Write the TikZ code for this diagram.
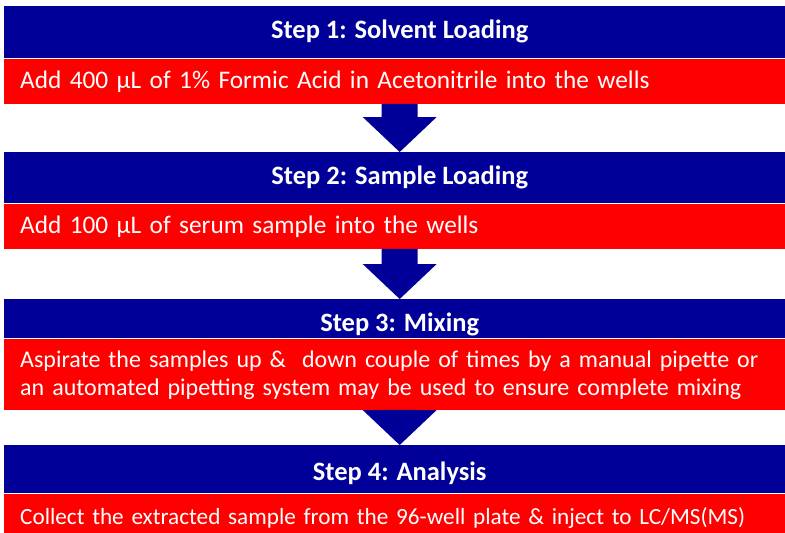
\documentclass[tikz,border=0pt]{standalone}
\usepackage{fontspec}
\setmainfont{Carlito}
\usepackage{tikz}
\usetikzlibrary{calc}
\definecolor{stepblue}{RGB}{0,0,153}
\definecolor{stepred}{RGB}{255,0,0}

\begin{document}
\begin{tikzpicture}[x=1pt,y=-1pt,
    titlebox/.style={fill=stepblue, text=white, anchor=north west, inner sep=0pt,
        minimum width=791pt, text height=18pt, text depth=5pt,
        font=\bfseries\fontsize{26.5}{27.3}\selectfont},
    descbox/.style={fill=stepred, text=white, anchor=north west, align=left,
        text width=900pt, inner xsep=16pt, inner ysep=0pt, minimum height=45pt,
        text height=19.5pt, text depth=5pt,
        font=\fontsize{25.3}{27.3}\selectfont}]
        \useasboundingbox (0,0) rectangle (785,533);

        % Step 1
        \node[titlebox, minimum height=52pt] (t1) at (4,6) {Step 1: Solvent Loading};
        \node[descbox] (d1) at (t1.south west) {Add 400 µL of 1\% Formic Acid in Acetonitrile into the wells};

        % Step 2
        \node[titlebox, minimum height=51pt] (t2) at (4,152) {Step 2: Sample Loading};
        \node[descbox] (d2) at (t2.south west) {Add 100 µL of serum sample into the wells};

        % Step 3 (text is a bit smaller here)
        \node[titlebox, minimum height=39pt, text height=30pt] (t3) at (4,299) {Step 3: Mixing};
        \node[descbox, minimum height=71pt, text depth=32.3pt, font=\fontsize{24}{27.3}\selectfont] (d3) at (t3.south west) {Aspirate the samples up \&\ \ down couple of times by a manual pipette or\\an automated pipetting system may be used to ensure complete mixing};

        % Step 4
        \node[titlebox, minimum height=48pt, text height=27pt] (t4) at (4,445) {Step 4: Analysis};
        \node[descbox, text height=21pt, font=\fontsize{23.2}{27.3}\selectfont] (d4) at (t4.south west) {Collect the extracted sample from the 96-well plate \& inject to LC/MS(MS)};

        % Arrows
        \foreach \a/\b in {d1/t2, d2/t3, d3/t4}
            \fill[stepblue] ($(\b.north |- \a.south)+(-18,0)$) -- ($(\b.north)+(-18,-35)$)
                -- ($(\b.north)+(-37,-35)$) -- (\b.north) -- ($(\b.north)+(37,-35)$)
                -- ($(\b.north)+(18,-35)$) -- ($(\b.north |- \a.south)+(18,0)$) -- cycle;
    \end{tikzpicture}
\end{document}
